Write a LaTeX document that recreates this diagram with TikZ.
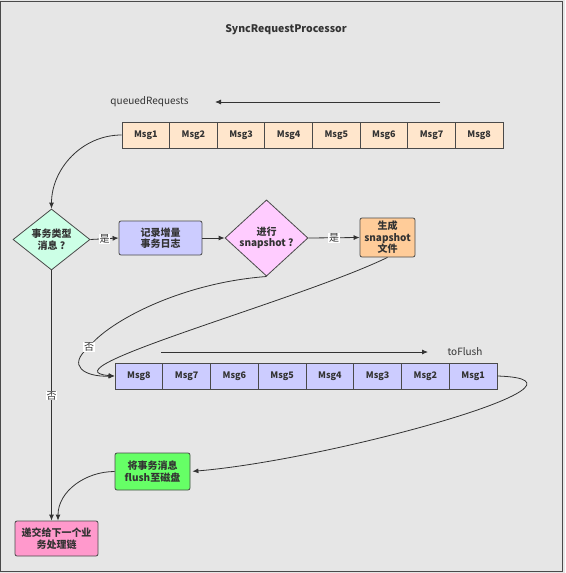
\documentclass[tikz,border=0pt]{standalone}
\usepackage{fontspec}
\setmainfont{Noto Sans CJK SC}
\usetikzlibrary{shapes.geometric,arrows.meta}
\definecolor{bg}{HTML}{E6E6E6}
\definecolor{frame}{HTML}{4A4A4A}
\definecolor{ln}{HTML}{333333}
\definecolor{tc}{HTML}{333333}
\definecolor{peach}{HTML}{FFE6CC}
\definecolor{lav}{HTML}{CCCCFF}
\definecolor{mint}{HTML}{CCFFE6}
\definecolor{pinkd}{HTML}{FFCCFF}
\definecolor{orng}{HTML}{FFCC99}
\definecolor{grn}{HTML}{66FF66}
\definecolor{pnk}{HTML}{FF99CC}
\begin{document}
\begin{tikzpicture}[x=1pt,y=-1pt,
  every node/.style={text=tc},
  cell/.style={draw=frame, line width=0.8pt, minimum height=26pt, inner sep=0pt, font=\fontsize{9}{10}\selectfont\bfseries},
  qcell/.style={cell, fill=peach, minimum width=47.625pt},
  fcell/.style={cell, fill=lav, minimum width=47.75pt},
  box/.style={draw=frame, line width=0.8pt, rounded corners=2pt, align=center, inner sep=0pt, font=\fontsize{10}{11.5}\selectfont\bfseries},
  dia/.style={diamond, draw=frame, line width=0.8pt, align=center, inner sep=0pt, font=\fontsize{10}{11.5}\selectfont\bfseries},
  arr/.style={draw=ln, line width=0.8pt, -{Latex[length=6pt,width=5pt]}},
  lbl/.style={fill=white, inner sep=0.6pt, font=\fontsize{10}{11}\selectfont},
  plain/.style={font=\fontsize{10}{12}\selectfont}
]
\useasboundingbox (0,0) rectangle (565,573);
\fill[bg] (0,0) rectangle (565,573);
\draw[frame, line width=1.2pt] (0.6,1.6) rectangle (562.4,571.4);

\node[font=\fontsize{10.5}{12}\selectfont\bfseries] (title) at (286,30) {SyncRequestProcessor};

% queuedRequests
\node[plain] (qlbl) at (149.5,102) {queuedRequests};
\coordinate (qa1) at (440,102);
\coordinate (qa2) at (215,102);
\draw[arr] (qa1) -- (qa2);
\foreach \i in {1,...,8}
  \node[qcell] (q\i) at ({122+47.625*(\i-0.5)},135) {Msg\i};

% toFlush
\node[plain] (flbl) at (465,352) {toFlush};
\coordinate (fa1) at (161,352);
\coordinate (fa2) at (428,352);
\draw[arr] (fa1) -- (fa2);
\foreach \i in {1,...,8}
  \node[fcell] (f\i) at ({497-47.75*(\i-0.5)},376) {Msg\i};

% nodes
\node[dia, fill=mint, minimum width=77pt, minimum height=49pt] (d1) at (51.5,239.5) {事务类型\\消息 ?};
\node[box, fill=lav, minimum width=83pt, minimum height=34pt] (rec) at (160.5,238) {记录增量\\事务日志};
\node[dia, fill=pinkd, minimum width=83pt, minimum height=57pt] (d2) at (266.5,238) {进行\\snapshot ?};
\node[box, fill=orng, minimum width=55pt, minimum height=39pt] (snap) at (387.5,237.5) {生成\\snapshot\\文件};
\node[box, fill=grn, minimum width=75pt, minimum height=37pt] (flush) at (152.5,471.5) {将事务消息\\flush至磁盘};
\node[box, fill=pnk, minimum width=83pt, minimum height=35pt] (nxt) at (56.5,538.5) {递交给下一个业\\务处理链};

% connectors
\draw[arr] (q1.west) to[out=180,in=90] (d1.north);
\draw[arr] (d1.east) -- node[lbl]{是} (rec.west);
\draw[arr] (rec.east) -- (d2.west);
\draw[arr] (d2.east) -- node[lbl]{是} (snap.west);
\coordinate (bend) at (89,347);
\draw[arr] (d2.south) .. controls (180,283) and (108,322) .. (bend) .. controls (66,366) and (85,377) .. (f8.west);
\draw[arr] (snap.south) .. controls (300,300) and (40,370) .. (f8.west);
\node[lbl] (no2) at (bend) {否};
\draw[arr, shorten >=2pt] (f1.east) .. controls (620,380) and (330,460) .. (flush.east);
\draw[arr] (flush.west) to[out=180,in=90] ([xshift=1.5pt]nxt.north);
\draw[arr] (d1.south) -- node[lbl]{否} (d1.south |- nxt.north);
\end{tikzpicture}
\end{document}
